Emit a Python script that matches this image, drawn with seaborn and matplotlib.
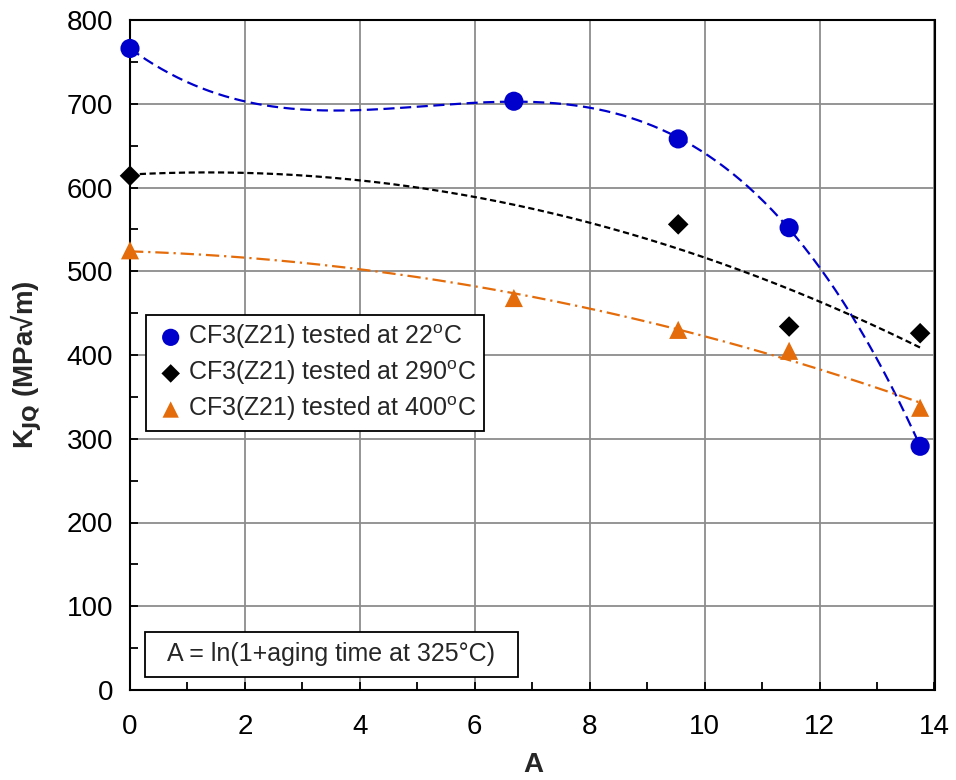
import numpy as np
import pandas as pd
import matplotlib
matplotlib.use("Agg")
import matplotlib.pyplot as plt
from matplotlib.ticker import MultipleLocator
from matplotlib.patches import Rectangle
import seaborn as sns

# ---- data ----
a_22 = [0.0, 6.68, 9.54, 11.47, 13.75]
k_22 = [766, 703, 658, 552, 291]
a_290 = [0.0, 9.54, 11.47, 13.75]
k_290 = [614, 556, 434, 426]
a_400 = [0.0, 6.68, 9.54, 11.47, 13.75]
k_400 = [525, 468, 430, 405, 337]
labels = ["CF3(Z21) tested at 22$^{\\mathregular{o}}$C",
          "CF3(Z21) tested at 290$^{\\mathregular{o}}$C",
          "CF3(Z21) tested at 400$^{\\mathregular{o}}$C"]
fit_orders = [3, 2, 2]
colors = ["#0000CC", "#000000", "#E46C0A"]
markers = ["o", "D", "^"]
msizes = [190, 110, 170]
dashes = [(5, 2.5), (2.8, 1.6), (6, 2.2, 1, 2.2)]

sns.set_theme(style="white")
plt.rcParams["font.family"] = ["Liberation Sans", "DejaVu Sans"]
plt.rcParams["mathtext.default"] = "regular"

fig = plt.figure(figsize=(9.56, 7.8), dpi=100)
ax = fig.add_axes([130 / 956, 90 / 780, (934.5 - 130) / 956, 670 / 780])

series = [(a_22, k_22), (a_290, k_290), (a_400, k_400)]
for (xs, ys), lab, order, c, m, s, d in zip(series, labels, fit_orders, colors, markers, msizes, dashes):
    coef = np.polyfit(xs, ys, order)
    xf = np.linspace(min(xs), max(xs), 300)
    fit_df = pd.DataFrame({"A": xf, "K": np.polyval(coef, xf)})
    ln = sns.lineplot(data=fit_df, x="A", y="K", ax=ax, color=c, lw=1.6, zorder=3)
    ln.get_lines()[-1].set_dashes(d)
    pts = pd.DataFrame({"A": xs, "K": ys})
    sns.scatterplot(data=pts, x="A", y="K", ax=ax, color=c, marker=m, s=s,
                    edgecolor="none", linewidth=0, zorder=4, label=lab, clip_on=False)

ax.set_xlim(0, 14)
ax.set_ylim(0, 800)
ax.xaxis.set_major_locator(MultipleLocator(2))
ax.xaxis.set_minor_locator(MultipleLocator(1))
ax.yaxis.set_major_locator(MultipleLocator(100))
ax.yaxis.set_minor_locator(MultipleLocator(50))
ax.grid(True, which="major", color="#8c8c8c", lw=1.3)
ax.set_axisbelow(True)
for sp in ax.spines.values():
    sp.set_color("black")
    sp.set_linewidth(1.5)
ax.tick_params(axis="both", which="both", direction="in", colors="black",
               labelsize=20, top=False, right=False)
ax.tick_params(axis="both", which="major", length=6, width=1.3)
ax.tick_params(axis="both", which="minor", length=6, width=1.3)
ax.tick_params(axis="x", which="both", bottom=True, pad=17)
ax.tick_params(axis="y", which="both", left=True, pad=12)

ax.set_xlabel("A", fontsize=20, fontweight="bold")
ax.xaxis.set_label_coords(0.501, -0.093)
ax.set_ylabel("K$_{\\mathbf{JQ}}$ (MPa√m)", fontsize=20, fontweight="bold")
ax.yaxis.set_label_coords(-0.107, 0.485)

leg = ax.legend(loc="upper left", bbox_to_anchor=(0.0195, 0.56), borderaxespad=0,
                fontsize=18, frameon=True, fancybox=False, edgecolor="black",
                handletextpad=0.0, handlelength=1.4, labelspacing=0.3,
                borderpad=0.3, markerscale=0.9)
leg.get_frame().set_linewidth(1.3)
leg.get_frame().set_alpha(1)

box = Rectangle((0.0186, 0.0194), 0.4636, 0.0672, transform=ax.transAxes,
                fc="white", ec="black", lw=1.3, zorder=5)
ax.add_patch(box)
ax.text(0.0186 + 0.4636 / 2, 0.0194 + 0.0672 / 2, "A = ln(1+aging time at 325°C)",
        transform=ax.transAxes, fontsize=18, va="center", ha="center", zorder=6)

fig.savefig("out.png", dpi=100)
